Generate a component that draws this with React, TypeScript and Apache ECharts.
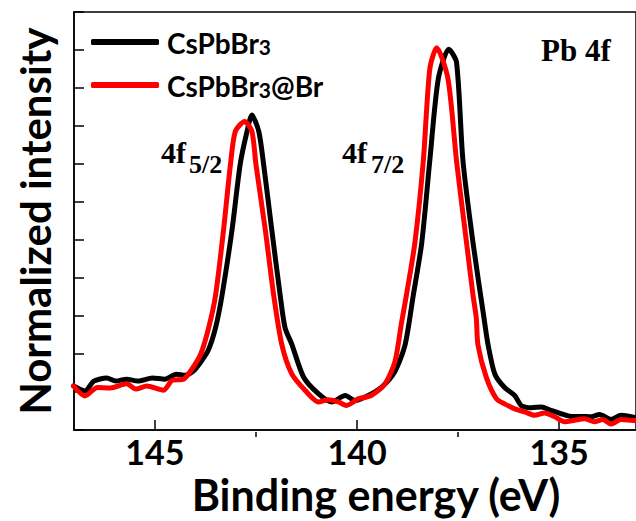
import React, { useEffect, useRef } from "react";
import * as echarts from "echarts";

// Binding energy (eV) and normalized intensity
const blackEnergy = [147.01,146.73,146.51,146.19,145.97,145.70,145.42,145.06,144.75,144.47,144.25,144.05,143.86,143.68,143.50,143.34,143.09,142.89,142.72,142.60,142.43,142.31,142.11,141.90,141.78,141.61,141.32,140.95,140.63,140.29,140.05,139.72,139.39,139.06,138.81,138.61,138.40,138.20,137.99,137.73,137.54,137.38,137.13,136.86,136.76,136.59,136.35,136.10,135.94,135.69,135.44,135.20,134.95,134.70,134.46,134.21,134.00,133.72,133.47,133.22,133.10];
const blackIntensity = [1.16,1.03,1.29,1.37,1.29,1.34,1.29,1.37,1.34,1.47,1.44,1.55,1.80,2.10,2.69,3.54,5.28,6.99,7.86,8.29,7.86,6.99,5.28,3.54,2.69,2.25,1.39,0.95,0.74,0.91,0.78,0.91,1.13,1.55,2.25,3.54,4.92,7.09,9.24,10.02,9.68,7.09,4.92,2.95,2.25,1.47,1.12,0.91,0.65,0.59,0.61,0.52,0.43,0.36,0.36,0.35,0.41,0.28,0.39,0.35,0.33];

const redEnergy = [147.01,146.73,146.42,146.10,145.70,145.47,145.20,144.79,144.57,144.29,144.12,143.87,143.67,143.50,143.30,143.13,143.01,142.78,142.60,142.50,142.27,142.06,141.86,141.61,141.28,140.95,140.71,140.46,140.26,139.97,139.65,139.31,139.06,138.90,138.78,138.57,138.36,138.20,138.03,137.75,137.54,137.29,137.13,137.05,137.01,136.80,136.55,136.35,136.10,135.85,135.61,135.36,135.11,134.87,134.62,134.37,134.13,133.92,133.72,133.47,133.22,133.10];
const redIntensity = [1.16,0.90,1.12,1.11,1.22,1.08,1.16,1.05,1.31,1.34,1.55,1.99,2.69,3.54,5.28,6.99,7.86,8.12,7.86,6.99,5.28,3.54,2.25,1.47,1.04,0.74,0.80,0.74,0.65,0.82,0.91,1.21,1.81,2.82,3.54,4.92,7.09,9.50,10.06,9.24,7.09,4.92,3.54,2.95,2.25,1.38,0.82,0.69,0.56,0.48,0.39,0.45,0.35,0.22,0.26,0.30,0.22,0.28,0.16,0.28,0.26,0.25];

const seriesNames = ["CsPbBr3", "CsPbBr3@Br"];
const xMajorTicks = [135, 140, 145];
const xMinorTicks = [137.5, 142.5];
const xAxisTitle = "Binding energy (eV)";
const yAxisTitle = "Normalized intensity";
const panelLabel = "Pb 4f";
const peakLabels = [
  { main: "4f", sub: "5/2" },
  { main: "4f", sub: "7/2" },
];

const X_MIN = 133.1;
const X_MAX = 147;

export default function App() {
  const ref = useRef<HTMLDivElement>(null);
  useEffect(() => {
    if (!ref.current) return;
    const chart = echarts.init(ref.current, null, { renderer: "svg" });
    const toPairs = (xs: number[], ys: number[]) => xs.map((x, i) => [x, ys[i]]);
    const sansBold = { fontFamily: "Lato", fontWeight: "bold" as const, color: "#000" };
    const serif = "Liberation Serif";
    const serifText = (text: string, x: number, y: number, size: number) => ({
      type: "text", x, y,
      style: { text, fontFamily: serif, fontWeight: "bold", fontSize: size, fill: "#000", verticalAlign: "middle", align: "left" },
    });
    const option: any = {
      animation: false,
      grid: {
        left: 74, right: -2, top: 12, bottom: 84,
        show: true, borderColor: "#000", borderWidth: 1.5, backgroundColor: "transparent",
      },
      legend: {
        orient: "vertical",
        left: 91, top: 27, padding: 0,
        itemWidth: 68, itemHeight: 6, itemGap: 13,
        icon: "roundRect",
        data: seriesNames,
        formatter: (name: string) => {
          const i = name.indexOf("3");
          return "{a|" + name.slice(0, i) + "}{s|3}" + (name.slice(i + 1) ? "{a|" + name.slice(i + 1) + "}" : "");
        },
        textStyle: {
          ...sansBold,
          fontSize: 28,
          lineHeight: 30,
          padding: [0, 0, 0, 3],
          rich: {
            a: { ...sansBold, fontSize: 28, lineHeight: 30, verticalAlign: "bottom" },
            s: { ...sansBold, fontSize: 21, lineHeight: 24, verticalAlign: "bottom" },
          },
        },
      },
      xAxis: [
        {
          type: "value", min: X_MIN, max: X_MAX, inverse: true, position: "bottom",
          axisLine: { show: true, lineStyle: { color: "#000", width: 1.5 } },
          axisTick: { show: true, inside: true, length: 10, customValues: xMajorTicks, lineStyle: { color: "#000", width: 1.5 } },
          axisLabel: { show: true, customValues: xMajorTicks, ...sansBold, fontSize: 34, margin: 4 },
          splitLine: { show: false },
          name: xAxisTitle, nameLocation: "middle", nameGap: 41,
          nameTextStyle: { ...sansBold, fontSize: 43, padding: [0, 0, 0, 42] },
        },
        {
          type: "value", min: X_MIN, max: X_MAX, inverse: true, position: "top", offset: -425,
          axisLine: { show: false },
          axisTick: { show: true, inside: false, length: 5, customValues: xMinorTicks, lineStyle: { color: "#000", width: 1.5 } },
          axisLabel: { show: false },
          splitLine: { show: false },
        },
      ],
      yAxis: {
        type: "value", min: 0, max: 11, interval: 1,
        axisLine: { show: true, lineStyle: { color: "#000", width: 1.5 } },
        axisTick: { show: true, inside: true, length: 10, lineStyle: { color: "#000", width: 1.5 } },
        axisLabel: { show: false },
        splitLine: { show: false },
        name: yAxisTitle, nameLocation: "middle", nameGap: 18,
        nameTextStyle: { ...sansBold, fontSize: 42 },
      },
      series: [
        {
          name: seriesNames[0], type: "line", xAxisIndex: 0,
          data: toPairs(blackEnergy, blackIntensity),
          showSymbol: false, symbol: "none", smooth: 0.25,
          lineStyle: { color: "#000", width: 5, cap: "round", join: "round" },
          itemStyle: { color: "#000" },
        },
        {
          name: seriesNames[1], type: "line", xAxisIndex: 0,
          data: toPairs(redEnergy, redIntensity),
          showSymbol: false, symbol: "none", smooth: 0.25,
          lineStyle: { color: "#ff0000", width: 5, cap: "round", join: "round" },
          itemStyle: { color: "#ff0000" },
        },
      ],
      graphic: [
        serifText(peakLabels[0].main, 161, 152, 30),
        serifText(peakLabels[0].sub, 189, 164, 26),
        serifText(peakLabels[1].main, 342, 152, 30),
        serifText(peakLabels[1].sub, 371, 164, 26),
        serifText(panelLabel, 541, 50, 31),
      ],
    };
    chart.setOption(option);
    return () => chart.dispose();
  }, []);
  return <div ref={ref} style={{ position: "fixed", left: 0, top: 0, width: 636, height: 521, background: "#fff" }} />;
}
